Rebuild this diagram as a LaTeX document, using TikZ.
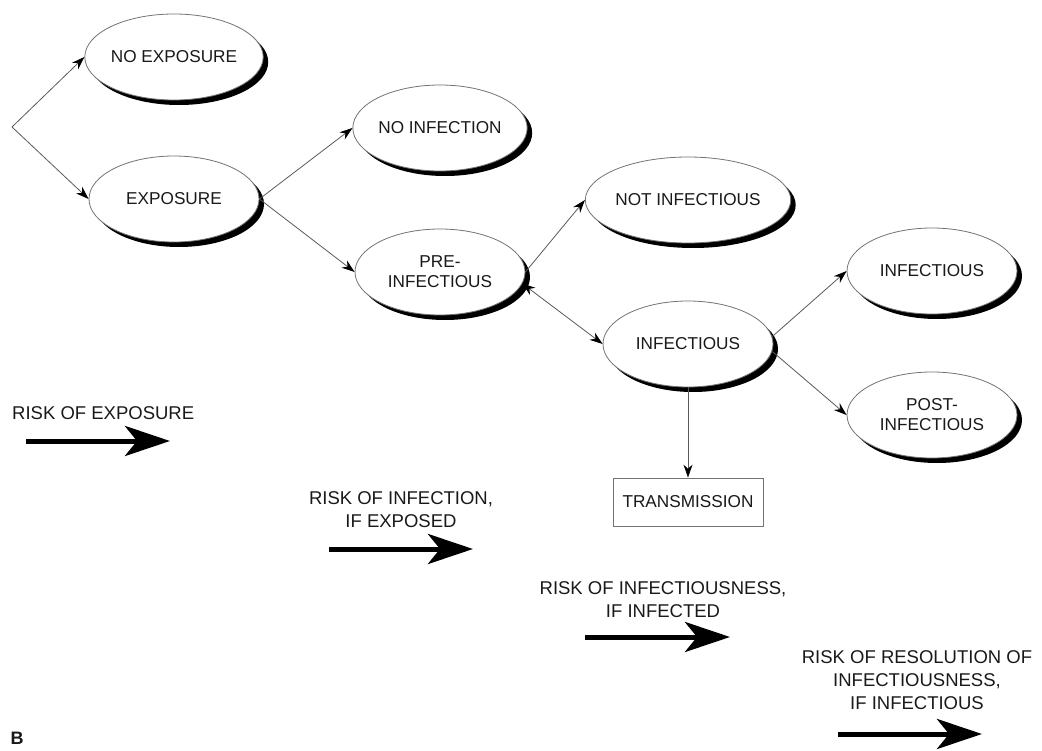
\documentclass[tikz,border=0pt]{standalone}
\usepackage{fontspec}
\setmainfont{Liberation Sans}
\usetikzlibrary{shapes.geometric,shadows,arrows.meta}
\begin{document}
\begin{tikzpicture}[x=1pt,y=-1pt,
  oval/.style={ellipse, draw=black!55, line width=0.8pt, fill=white,
    minimum width=170pt, minimum height=86pt, inner sep=0pt, align=center,
    font=\fontsize{17.2}{20}\selectfont, text=black!90,
    drop shadow={shadow xshift=5pt, shadow yshift=-5pt, opacity=1, fill=black}},
  tbox/.style={rectangle, draw=black!55, line width=0.8pt, fill=white,
    minimum width=150pt, minimum height=48pt, inner sep=0pt,
    font=\fontsize{17.2}{20}\selectfont, text=black!90},
  lbl/.style={align=center, inner sep=0pt, font=\fontsize{18.5}{23}\selectfont, text=black!90},
  tip/.style={Stealth[length=13pt,width=9pt,color=black]},
  conn/.style={draw=black!65, line width=0.8pt, -{Stealth[length=13pt,width=9pt,color=black]}},
  dconn/.style={draw=black!65, line width=0.8pt, {Stealth[length=13pt,width=9pt,color=black]}-{Stealth[length=13pt,width=9pt,color=black]}},
  big/.style={line width=5pt, black, -{Stealth[length=45pt,width=30pt,inset=12pt]}}
]
\useasboundingbox (0,0) rectangle (1042,751);

% nodes
\node[oval] (noexp) at (174,57) {NO EXPOSURE};
\node[oval] (exp) at (174,199) {EXPOSURE};
\node[oval] (noinf) at (440,128) {NO INFECTION};
\node[oval] (preinf) at (440,272) {PRE-\\INFECTIOUS};
\node[oval] (notinf) at (688,200) {NOT INFECTIOUS};
\node[oval] (inf) at (688,344) {INFECTIOUS};
\node[oval] (inf2) at (932,271) {INFECTIOUS};
\node[oval] (post) at (932,415) {POST-\\INFECTIOUS};
\node[tbox] (trans) at (688,502) {TRANSMISSION};

% connectors
\coordinate (split) at (12,127);
\draw[conn] (split) -- (noexp.west);
\draw[conn] (split) -- (exp.west);
\draw[conn] (exp.east) -- (noinf.west);
\draw[conn] (exp.east) -- (preinf.west);
\draw[conn] (preinf.east) -- (notinf.west);
\draw[dconn] (preinf.-8) -- (inf.west);
\draw[conn] (inf.5) -- (inf2.west);
\draw[conn] (inf.-5) -- (post.west);
\draw[conn] (inf.south) -- (trans.north);

% risk labels and arrows
\node[lbl, anchor=west] (l1) at (12,413) {RISK OF EXPOSURE};
\coordinate (a1s) at (26,441); \coordinate (a1e) at (170,441);
\draw[big] (a1s) -- (a1e);

\node[lbl] (l2) at (401,510) {RISK OF INFECTION,\\IF EXPOSED};
\coordinate (a2s) at (329,549); \coordinate (a2e) at (473,549);
\draw[big] (a2s) -- (a2e);

\node[lbl] (l3) at (663,600) {RISK OF INFECTIOUSNESS,\\IF INFECTED};
\coordinate (a3s) at (585,637); \coordinate (a3e) at (730,637);
\draw[big] (a3s) -- (a3e);

\node[lbl] (l4) at (917,680) {RISK OF RESOLUTION OF\\INFECTIOUSNESS,\\IF INFECTIOUS};
\coordinate (a4s) at (838,734); \coordinate (a4e) at (982,734);
\draw[big] (a4s) -- (a4e);

\node[font=\fontsize{18}{20}\selectfont\bfseries, text=black!90, inner sep=0pt] (B) at (17,738) {B};
\end{tikzpicture}
\end{document}
